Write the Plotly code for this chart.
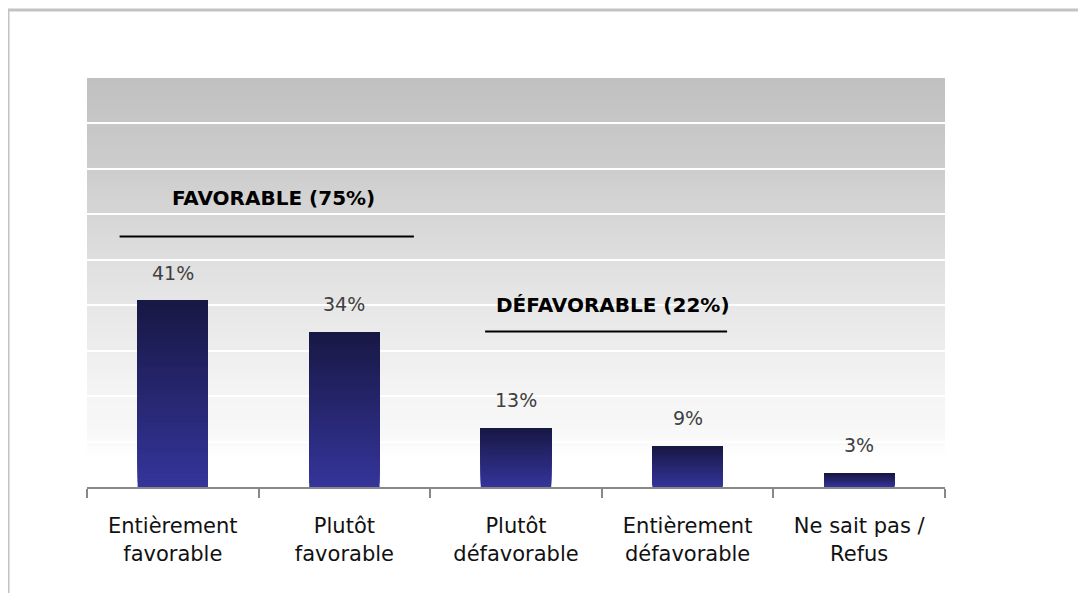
import plotly.graph_objects as go

categories = ["Entièrement<br>favorable", "Plutôt<br>favorable", "Plutôt<br>défavorable",
              "Entièrement<br>défavorable", "Ne sait pas /<br>Refus"]
values = [41, 34, 13, 9, 3]
value_labels = ["41%", "34%", "13%", "9%", "3%"]

group_labels = ["FAVORABLE (75%)", "DÉFAVORABLE (22%)"]
group_label_pos = [(0.587, 63.7), (2.565, 40.1)]
group_lines = [(-0.31, 1.405, 55.1), (1.82, 3.23, 34.2)]

FONT = "DejaVu Sans"

def lerp(c1, c2, t):
    return tuple(round(a + (b - a) * t) for a, b in zip(c1, c2))

def hexc(c):
    return "#%02x%02x%02x" % c

fig = go.Figure()

# bars with vertical gradient (dark top, lighter bottom), overlaid slices
N = 40
bottom_col = (0x34, 0x34, 0x9a)
top_col = (0x18, 0x18, 0x45)
for k in range(N):
    t = k / (N - 1)
    col = hexc(lerp(bottom_col, top_col, t))
    fig.add_trace(go.Bar(
        x=categories,
        y=[v * (1 - k / N) for v in values],
        base=[v * k / N for v in values],
        marker=dict(color=col, line=dict(width=0)),
        showlegend=False, hoverinfo="skip",
    ))

# value labels
for c, v, lab in zip(categories, values, value_labels):
    fig.add_annotation(x=c, y=v, text=lab, showarrow=False, yanchor="bottom",
                       yshift=15, font=dict(family=FONT, size=19, color="#404040"))

shapes = []
# background gradient (grey top -> white bottom), nested rects to avoid seams
stops = [(90, 192), (70, 205), (46, 226), (23, 243), (12, 248), (8, 252), (7, 255), (0, 255)]
def grey_at(v):
    for (v1, g1), (v2, g2) in zip(stops[:-1], stops[1:]):
        if v2 <= v <= v1:
            t = (v1 - v) / (v1 - v2) if v1 != v2 else 0
            return g1 + (g2 - g1) * t
    return 255
v = 90.0
while v > 0:
    g = round(grey_at(v - 0.5))
    shapes.append(dict(type="rect", xref="paper", yref="y", x0=0, x1=1, y0=0, y1=v,
                       fillcolor=hexc((g, g, g)), line=dict(width=0), layer="below"))
    v -= 1.0

# group underline lines
for x0, x1, y in group_lines:
    shapes.append(dict(type="line", xref="x", yref="y", x0=x0, x1=x1, y0=y, y1=y,
                       line=dict(color="#000000", width=2)))

# outer frame (top and left edges visible)
shapes.append(dict(type="rect", xref="paper", yref="paper",
                   x0=(8 - 87) / 858, x1=1.3, y0=-0.4, y1=(487 - 10) / 409,
                   line=dict(color="#c3c3c3", width=3), fillcolor="rgba(0,0,0,0)"))

for lab, (x, y) in zip(group_labels, group_label_pos):
    fig.add_annotation(x=x, y=y, text="<b>" + lab + "</b>", showarrow=False,
                       font=dict(family=FONT, size=20, color="#000000"))

fig.update_layout(
    width=1086, height=593,
    margin=dict(l=79, r=149, t=70, b=114),
    paper_bgcolor="white", plot_bgcolor="white",
    barmode="overlay", bargap=0.59,
    shapes=shapes,
    showlegend=False,
    font=dict(family=FONT),
)
fig.update_xaxes(
    range=[-0.5, 4.5], showline=True, linecolor="#888888", linewidth=2,
    ticks="outside", tickson="boundaries", ticklen=9, tickwidth=2, tickcolor="#888888",
    tickfont=dict(family=FONT, size=21, color="#111111"), showgrid=False,
    ticklabelstandoff=19,
)
fig.update_yaxes(
    range=[0, 90], dtick=10, showgrid=True, gridcolor="white", gridwidth=2,
    showticklabels=False, zeroline=False, showline=False,
)

fig.write_html("out.html")
